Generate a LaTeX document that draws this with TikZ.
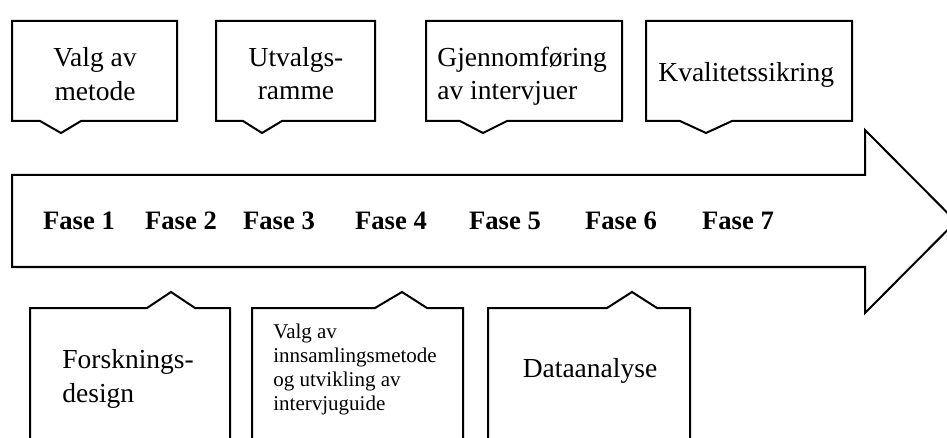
\documentclass[tikz,border=0pt]{standalone}
\usepackage{fontspec}
\setmainfont{Liberation Serif}

\newcommand*{\boxtop}{21}
\newcommand*{\boxbot}{121}
\newcommand*{\tipdown}{133}
\newcommand*{\lowtop}{308}
\newcommand*{\tipup}{292}
\newcommand*{\lowend}{450}

\begin{document}
\begin{tikzpicture}
[
	outline/.style={draw,line width=1pt,line join=miter},
	boxtext/.style={inner sep=0pt,font=\fontsize{13.75}{16.75}\selectfont},
	smalltext/.style={inner sep=0pt,align=left,font=\fontsize{10.5}{12}\selectfont},
	fase/.style={inner sep=0pt,anchor=base,font=\fontsize{13.3}{16}\selectfont\bfseries},
	x=0.5pt,
	y=-0.5pt
]

	\useasboundingbox (0,0) rectangle (947,438);

	% the arrow
	\draw[outline] (12,175) -- (865,175) -- (865,130) -- (956,221.5) -- (865,313) -- (865,267) -- (12,267) -- cycle;

	% callouts above the arrow
	\foreach \xa/\xb/\pa/\pt/\pb in {12/177/40/61/81, 216/375/243/262/282, 426/622/460/483/507, 646/852/680/706/732}
		\draw[outline] (\xa,\boxtop) -- (\xb,\boxtop) -- (\xb,\boxbot) -- (\pb,\boxbot) -- (\pt,\tipdown) -- (\pa,\boxbot) -- (\xa,\boxbot) -- cycle;

	% callouts below the arrow
	\foreach \xa/\xb/\pa/\pt/\pb in {30/230/147/171/195, 252/463/375/402/427, 488/690/607/632/657}
		\draw[outline] (\xa,\lowend) -- (\xa,\lowtop) -- (\pa,\lowtop) -- (\pt,\tipup) -- (\pb,\lowtop) -- (\xb,\lowtop) -- (\xb,\lowend);

	% base anchor sits on the last line
	\node[boxtext,anchor=base,align=center] (metode) at (95,100.5) {Valg av\\metode};
	\node[boxtext,anchor=base,align=center] (ramme) at (296,100) {Utvalgs-\\ramme};
	\node[boxtext,anchor=base west,align=left] (intervjuer) at (437,100) {Gjennomføring\\av intervjuer};
	\node[boxtext,anchor=base west] (kvalitet) at (658,82) {Kvalitetssikring};

	\foreach \n/\x in {1/79, 2/181, 3/279, 4/391, 5/505, 6/621, 7/738}
		\node[fase] (fase\n) at (\x,230) {Fase \n};

	\node[boxtext,anchor=base west,align=left] (design) at (62,402) {Forsknings-\\design};
	\node[smalltext,anchor=base west] (guide) at (273,410) {Valg av\\innsamlingsmetode\\og utvikling av\\intervjuguide};
	\node[boxtext,anchor=base] (analyse) at (590,377) {Dataanalyse};

\end{tikzpicture}
\end{document}
